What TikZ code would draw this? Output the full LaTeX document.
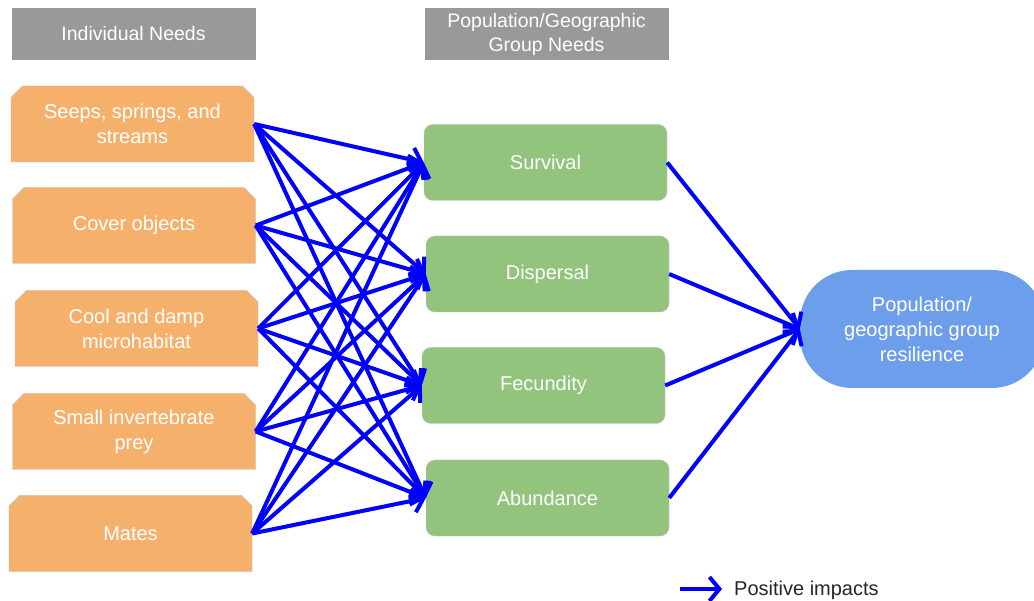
\documentclass[tikz,border=0pt]{standalone}
\usepackage{fontspec}
\setmainfont{Liberation Sans}
\usetikzlibrary{arrows.meta,shapes.misc}
\definecolor{needorange}{HTML}{F5B16C}
\definecolor{needgreen}{HTML}{93C47D}
\definecolor{needblue}{HTML}{6D9EEB}
\definecolor{headgray}{HTML}{999999}
\begin{document}
\begin{tikzpicture}[x=1pt,y=-1pt,
  header/.style={fill=headgray, text=white, minimum width=244pt, minimum height=52pt, inner sep=0pt, align=center, font=\fontsize{19.5}{24}\selectfont},
  indiv/.style={chamfered rectangle, chamfered rectangle corners={north west,north east}, chamfered rectangle xsep=8pt, fill=needorange, draw=black!25, text=white, minimum width=243pt, minimum height=76pt, inner sep=0pt, align=center, font=\fontsize{20}{25}\selectfont},
  popn/.style={rounded corners=9pt, fill=needgreen, draw=black!25, text=white, minimum width=243pt, minimum height=76pt, inner sep=0pt, align=center, font=\fontsize{20}{25}\selectfont},
  resil/.style={rounded corners=52pt, fill=needblue, text=white, minimum width=244pt, minimum height=118pt, inner sep=0pt, align=center, font=\fontsize{20}{25}\selectfont},
  impact/.style={draw=blue, line width=4pt, -{Straight Barb[length=10pt,width=24pt]}}]
\useasboundingbox (0,0) rectangle (1034,601);

\node[header] (h1) at (133.5,34) {Individual Needs};
\node[header] (h2) at (546.5,34) {Population/Geographic\\Group Needs};

\node[indiv] (o1) at (132.5,124) {Seeps, springs, and\\streams};
\node[indiv] (o2) at (134,225.5) {Cover objects};
\node[indiv] (o3) at (136.5,328.5) {Cool and damp\\microhabitat};
\node[indiv] (o4) at (134,431.5) {Small invertebrate\\prey};
\node[indiv] (o5) at (130.5,533.5) {Mates};

\node[popn] (g1) at (545.5,162.5) {Survival};
\node[popn] (g2) at (547.5,274) {Dispersal};
\node[popn] (g3) at (543.5,385.5) {Fecundity};
\node[popn] (g4) at (547.5,498) {Abundance};

\node[resil] (r) at (922,329) {Population/\\geographic group\\resilience};

\draw[impact] (o1.east) to (g1.west);
\draw[impact] (o1.east) to (g2.west);
\draw[impact] (o1.east) to (g3.west);
\draw[impact] (o1.east) to (g4.west);
\draw[impact] (o2.east) to (g1.west);
\draw[impact] (o2.east) to (g2.west);
\draw[impact] (o2.east) to (g3.west);
\draw[impact] (o2.east) to (g4.west);
\draw[impact] (o3.east) to (g1.west);
\draw[impact] (o3.east) to (g2.west);
\draw[impact] (o3.east) to (g3.west);
\draw[impact] (o3.east) to (g4.west);
\draw[impact] (o4.east) to (g1.west);
\draw[impact] (o4.east) to (g2.west);
\draw[impact] (o4.east) to (g3.west);
\draw[impact] (o4.east) to (g4.west);
\draw[impact] (o5.east) to (g1.west);
\draw[impact] (o5.east) to (g2.west);
\draw[impact] (o5.east) to (g3.west);
\draw[impact] (o5.east) to (g4.west);

\draw[impact] (g1.east) to (r.west);
\draw[impact] (g2.east) to (r.west);
\draw[impact] (g3.east) to (r.west);
\draw[impact] (g4.east) to (r.west);

% legend
\coordinate (l1) at (680,589);
\coordinate (l2) at (722,589);
\draw[impact] (l1) to (l2);
\node[anchor=west, text=black!85, inner sep=0pt, font=\fontsize{20}{24}\selectfont] (lt) at (734,590) {Positive impacts};
\end{tikzpicture}
\end{document}
